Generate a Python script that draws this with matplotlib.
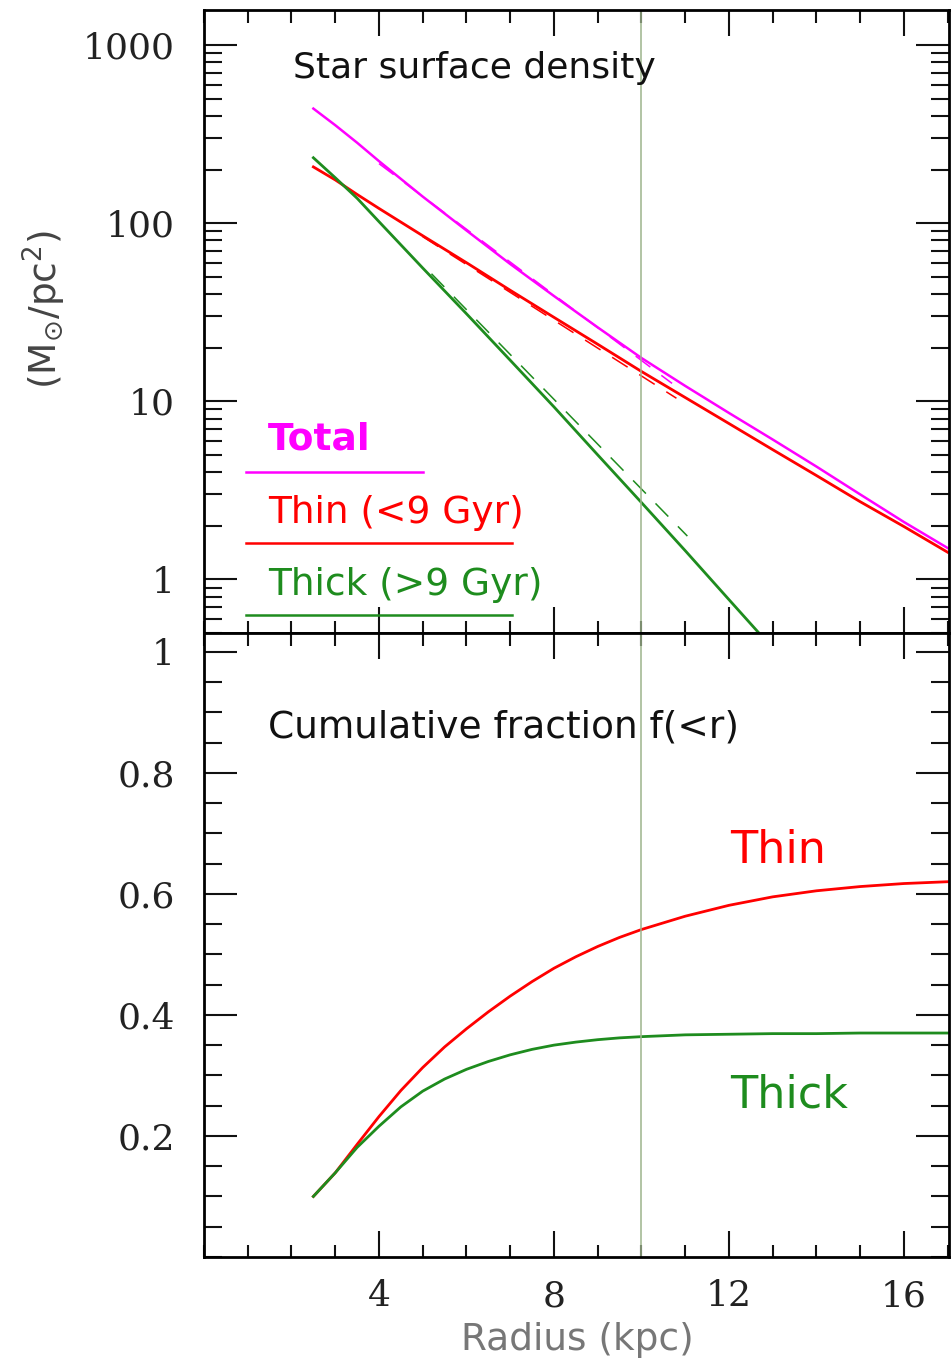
import matplotlib
matplotlib.use("Agg")
import matplotlib.pyplot as plt
from matplotlib.ticker import MultipleLocator, LogLocator, NullFormatter

# radii (kpc) where the density profiles were sampled
radius = [2.5, 3, 3.5, 4, 5, 6, 7, 8, 9, 10, 11, 12, 13, 14, 15, 16, 17]

# stellar surface density (Msun/pc^2)
sigma_total = [440, 355, 283, 223, 141, 91, 59, 39, 26, 17.5, 12.2, 8.6, 6.1, 4.3, 3.0, 2.1, 1.5]
sigma_thin = [207, 175, 145, 121, 85, 60, 42, 29.6, 20.9, 14.7, 10.5, 7.5, 5.35, 3.83, 2.73, 1.98, 1.42]
sigma_thick = [233, 180, 138, 102, 56, 31, 17, 9.3, 5.0, 2.7, 1.45, 0.77, 0.41, 0.22, 0.12, 0.06, 0.03]

# exponential fits (end points)
fit_total_r = [4.0, 10.7]
fit_total = [216, 12.6]
fit_thin_r = [5.0, 10.8]
fit_thin = [84, 10.4]
fit_thick_r = [5.2, 11.05]
fit_thick = [52, 1.75]

# cumulative mass fraction f(<r)
radius_cum = [2.5, 3, 3.5, 4, 4.5, 5, 5.5, 6, 6.5, 7, 7.5, 8, 8.5, 9, 9.5, 10,
              11, 12, 13, 14, 15, 16, 17]
cum_thin = [0.10, 0.139, 0.186, 0.232, 0.275, 0.313, 0.347, 0.377, 0.405, 0.431, 0.455,
            0.477, 0.496, 0.513, 0.528, 0.541, 0.563, 0.581, 0.595, 0.605, 0.612, 0.617, 0.620]
cum_thick = [0.10, 0.139, 0.181, 0.216, 0.248, 0.274, 0.294, 0.310, 0.323, 0.334, 0.343,
             0.350, 0.355, 0.359, 0.362, 0.364, 0.367, 0.368, 0.369, 0.369, 0.370, 0.370, 0.370]

r_sun = 10

MAG = "#ff00ff"
RED = "#ff0000"
GRN = "#1e8c1e"
VLINE = "#9db48c"

plt.rcParams["font.family"] = "DejaVu Sans"

fig = plt.figure(figsize=(9.52, 13.63), dpi=100)
ax1 = fig.add_axes([0.2143, 0.5356, 0.7825, 0.4571])
ax2 = fig.add_axes([0.2143, 0.0778, 0.7825, 0.4578], sharex=ax1)

# --- top: surface density profiles
ax1.plot(radius, sigma_total, color=MAG, lw=1.8)
ax1.plot(radius, sigma_thin, color=RED, lw=2.0)
ax1.plot(radius, sigma_thick, color=GRN, lw=2.0)
ax1.plot(fit_total_r, fit_total, color=MAG, lw=1.1, dashes=[12, 9])
ax1.plot(fit_thin_r, fit_thin, color=RED, lw=1.1, dashes=[12, 9])
ax1.plot(fit_thick_r, fit_thick, color=GRN, lw=1.1, dashes=[12, 9])
ax1.axvline(r_sun, color=VLINE, lw=1.1)

ax1.set_yscale("log")
ax1.set_ylim(0.5, 1575)
ax1.set_xlim(0, 17.03)
ax1.set_yticks([1, 10, 100, 1000], ["1", "10", "100", "1000"],
               fontfamily="DejaVu Serif", fontsize=26, color="#222222")
ax1.yaxis.set_minor_locator(LogLocator(base=10, subs=range(2, 10)))
ax1.yaxis.set_minor_formatter(NullFormatter())

ax1.text(0.1195, 0.907, "Star surface density", transform=ax1.transAxes,
         fontsize=26, va="center", ha="left", color="#111111")
ax1.text(0.0859, 0.310, "Total", transform=ax1.transAxes, fontsize=27,
         fontweight="bold", color=MAG, va="center")
ax1.plot([0.0564, 0.294], [0.2584, 0.2584], color=MAG, lw=1.8, transform=ax1.transAxes)
ax1.text(0.0859, 0.1926, "Thin (<9 Gyr)", transform=ax1.transAxes, fontsize=27,
         color=RED, va="center")
ax1.plot([0.0564, 0.4134], [0.1445, 0.1445], color=RED, lw=1.8, transform=ax1.transAxes)
ax1.text(0.0859, 0.077, "Thick (>9 Gyr)", transform=ax1.transAxes, fontsize=27,
         color=GRN, va="center")
ax1.plot([0.0564, 0.4134], [0.0289, 0.0289], color=GRN, lw=1.8, transform=ax1.transAxes)

# --- bottom: cumulative fractions
ax2.plot(radius_cum, cum_thin, color=RED, lw=2.0)
ax2.plot(radius_cum, cum_thick, color=GRN, lw=2.0)
ax2.axvline(r_sun, color=VLINE, lw=1.1)
ax2.set_ylim(0, 1.031)
ax2.set_yticks([0.2, 0.4, 0.6, 0.8, 1.0], ["0.2", "0.4", "0.6", "0.8", "1"],
               fontfamily="DejaVu Serif", fontsize=26, color="#222222")
ax2.yaxis.set_minor_locator(MultipleLocator(0.05))
ax2.set_xticks([4, 8, 12, 16], ["4", "8", "12", "16"],
               fontfamily="DejaVu Serif", fontsize=26, color="#222222")
ax2.xaxis.set_minor_locator(MultipleLocator(1))

ax2.text(0.0859, 0.848, "Cumulative fraction f(<r)", transform=ax2.transAxes,
         fontsize=27, va="center", color="#111111")
ax2.text(0.706, 0.652, "Thin", transform=ax2.transAxes, fontsize=32, color=RED, va="center")
ax2.text(0.706, 0.2596, "Thick", transform=ax2.transAxes, fontsize=32, color=GRN, va="center")

plt.setp(ax1.get_xticklabels(), visible=False)

for ax in (ax1, ax2):
    for sp in ax.spines.values():
        sp.set_linewidth(2.0)
    ax.tick_params(which="both", direction="in", top=True, right=True, width=1.5, color="#111111")
    ax.tick_params(which="major", axis="y", length=24, pad=21)
    ax.tick_params(which="minor", axis="y", length=13)
    ax.tick_params(which="major", axis="x", length=19, pad=16)
    ax.tick_params(which="minor", axis="x", length=9)

fig.text(0.606, 0.0169, "Radius (kpc)", fontsize=27, color="#777777", ha="center", va="center")
fig.text(0.047, 0.7726, r"(M$_{\odot}$/pc$^2$)", fontsize=27, color="#444444",
         rotation=90, ha="center", va="center")

fig.savefig("out.png", dpi=100)
